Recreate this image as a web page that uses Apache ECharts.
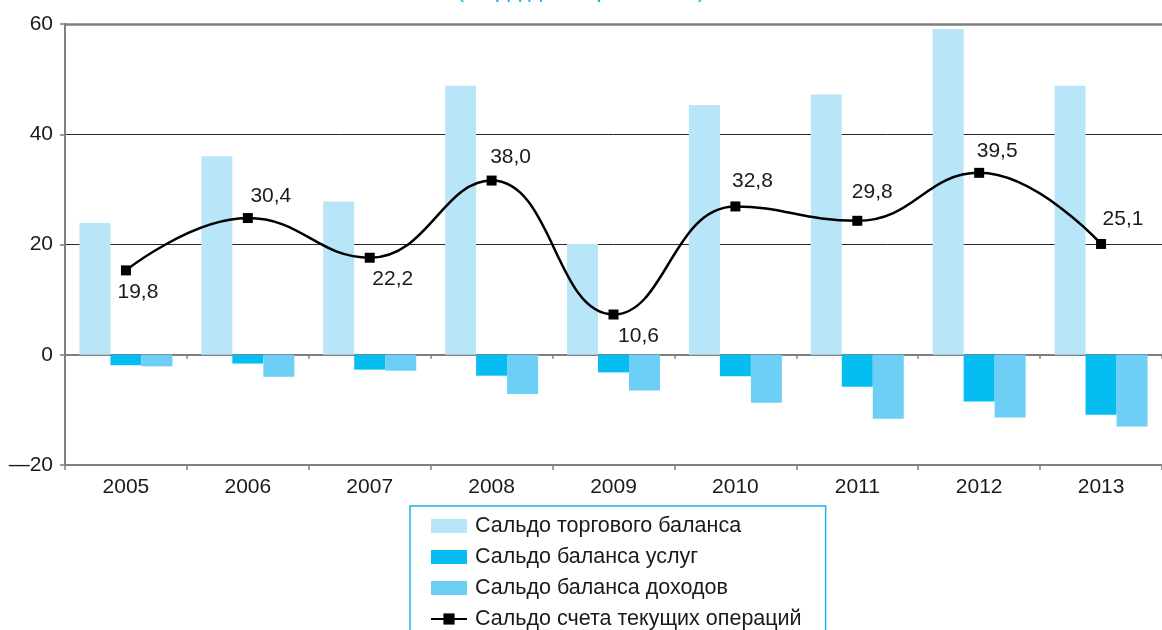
<!DOCTYPE html>
<html>
<head>
<meta charset="utf-8">
<script src="https://cdn.jsdelivr.net/npm/echarts@6/dist/echarts.min.js"></script>
<style>
  html, body { margin: 0; padding: 0; background: #fff; }
  #chart { width: 1162px; height: 630px; }
</style>
</head>
<body>
<div id="chart"></div>
<script>
// Данные (млрд долл. США)
var years = ['2005', '2006', '2007', '2008', '2009', '2010', '2011', '2012', '2013'];
var tradeBalance = [23.9, 36.0, 27.8, 48.8, 20.1, 45.3, 47.2, 59.1, 48.8];
var servicesBalance = [-1.9, -1.6, -2.7, -3.8, -3.2, -3.9, -5.8, -8.5, -10.9];
var incomeBalance = [-2.1, -4.0, -2.9, -7.1, -6.5, -8.7, -11.6, -11.4, -13.0];
// положение точек линии на графике и подписи к ним
var currentAccount = [15.3, 24.8, 17.6, 31.6, 7.3, 26.9, 24.3, 33.0, 20.1];
var currentAccountLabels = ['19,8', '30,4', '22,2', '38,0', '10,6', '32,8', '29,8', '39,5', '25,1'];
var yTicks = [-20, 0, 20, 40, 60];

var FONT = '"Liberation Sans", Arial, sans-serif';
var TEXT = '#1a1a1a';
var AXIS_GRAY = '#7f7f7f';

// куда ставить подписи линии (сверху/снизу, сдвиг)
var labelPlace = [
    ['bottom', [12, 0]],
    ['top', [23, 0]],
    ['bottom', [23, 0]],
    ['top', [19, -2]],
    ['bottom', [25, 0]],
    ['top', [17, -4]],
    ['top', [15, -7]],
    ['top', [18, 0]],
    ['top', [22, -3]]
];

var chart = echarts.init(document.getElementById('chart'));

var lineData = currentAccount.map(function (v, i) {
    return {
        value: v,
        label: { position: labelPlace[i][0], offset: labelPlace[i][1] }
    };
});

var option = {
    animation: false,
    textStyle: { fontFamily: FONT },
    graphic: [{
        type: 'text',
        left: 'center',
        top: -22,
        style: {
            text: '(млрд долларов США)',
            font: '24px ' + FONT,
            fill: '#1ab4ea'
        }
    }],
    grid: { left: 65, top: 24, width: 1107, bottom: 165 },
    legend: {
        orient: 'vertical',
        left: 410,
        top: 506,
        height: 200,
        padding: [9, 24, 30, 20],
        itemGap: 9,
        itemWidth: 36,
        itemHeight: 14,
        borderColor: '#1ab4ea',
        borderWidth: 1.5,
        textStyle: { fontSize: 21.5, color: TEXT, fontFamily: FONT, padding: [0, 0, 0, 3] },
        data: [
            { name: 'Сальдо торгового баланса', icon: 'rect' },
            { name: 'Сальдо баланса услуг', icon: 'rect' },
            { name: 'Сальдо баланса доходов', icon: 'rect' },
            { name: 'Сальдо счета текущих операций' }
        ]
    },
    xAxis: [{
        type: 'category',
        data: years,
        position: 'bottom',
        axisLine: { onZero: true, lineStyle: { color: AXIS_GRAY, width: 2 } },
        axisTick: { show: true, length: 4, lineStyle: { color: AXIS_GRAY, width: 1.5 } },
        axisLabel: { show: false },
        splitLine: { show: false }
    }, {
        type: 'category',
        data: years,
        position: 'bottom',
        axisLine: { onZero: false, lineStyle: { color: AXIS_GRAY, width: 2 } },
        axisTick: { show: true, length: 5, lineStyle: { color: AXIS_GRAY, width: 1.5 } },
        axisLabel: { fontSize: 21, color: TEXT, margin: 12, fontFamily: FONT },
        splitLine: { show: false }
    }, {
        type: 'category',
        data: years,
        position: 'top',
        axisLine: { onZero: false, lineStyle: { color: AXIS_GRAY, width: 2.5 } },
        axisTick: { show: false },
        axisLabel: { show: false }
    }],
    yAxis: {
        type: 'value',
        min: yTicks[0],
        max: yTicks[yTicks.length - 1],
        interval: 20,
        axisLine: { show: true, lineStyle: { color: AXIS_GRAY, width: 2 } },
        axisTick: { show: true, length: 5, lineStyle: { color: AXIS_GRAY, width: 1.5 } },
        axisLabel: {
            fontSize: 21,
            color: TEXT,
            margin: 12,
            fontFamily: FONT,
            formatter: function (v) { return v < 0 ? '\u2014' + Math.abs(v) : String(v); }
        },
        splitLine: { show: true, lineStyle: { color: '#2a2a2a', width: 1 } }
    },
    series: [{
        name: 'Сальдо торгового баланса',
        type: 'bar',
        barWidth: 31,
        barGap: '0%',
        itemStyle: { color: '#b8e5f8' },
        data: tradeBalance
    }, {
        name: 'Сальдо баланса услуг',
        type: 'bar',
        barWidth: 31,
        barGap: '0%',
        itemStyle: { color: '#05bdf1' },
        data: servicesBalance
    }, {
        name: 'Сальдо баланса доходов',
        type: 'bar',
        barWidth: 31,
        barGap: '0%',
        itemStyle: { color: '#6dcff6' },
        data: incomeBalance
    }, {
        name: 'Сальдо счета текущих операций',
        type: 'line',
        smooth: 0.45,
        symbol: 'rect',
        symbolSize: 10,
        z: 5,
        lineStyle: { color: '#000', width: 2.5 },
        itemStyle: { color: '#000' },
        label: {
            show: true,
            fontSize: 21,
            color: TEXT,
            fontFamily: FONT,
            distance: 6,
            formatter: function (p) { return currentAccountLabels[p.dataIndex]; }
        },
        data: lineData
    }]
};

chart.setOption(option);
window.onresize = function () {
    chart.resize();
};
</script>
</body>
</html>
